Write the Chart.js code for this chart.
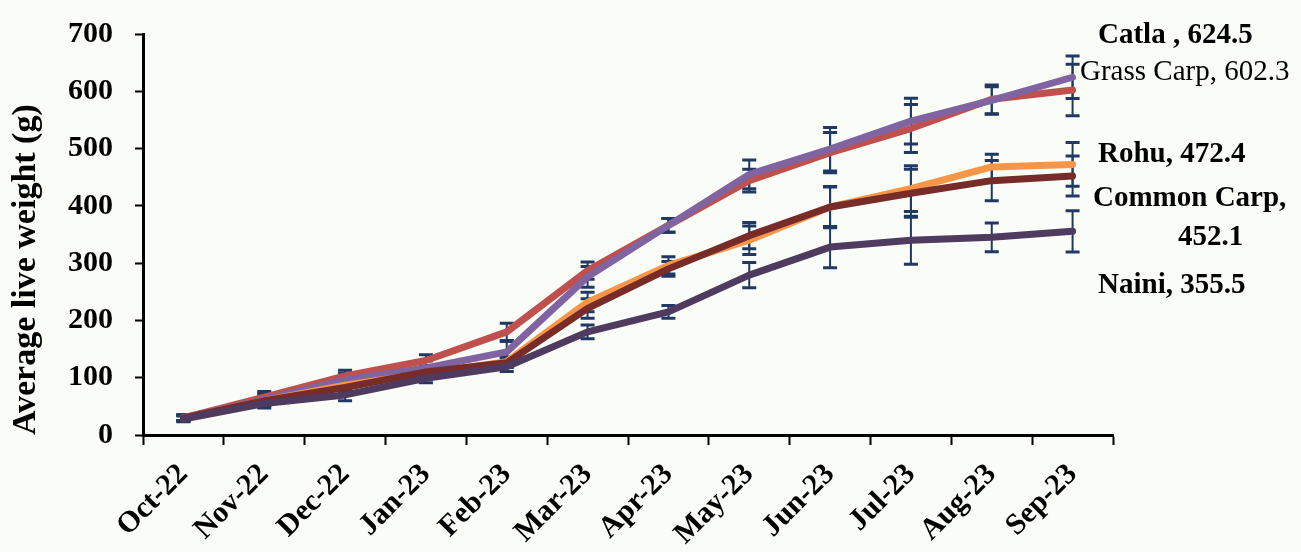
<!DOCTYPE html>
<html>
<head>
<meta charset="utf-8">
<script src="https://cdn.jsdelivr.net/npm/chart.js@4"></script>
<style>
  html, body { margin: 0; padding: 0; background: #fafcf7; }
  canvas { display: block; }
</style>
</head>
<body>
<canvas id="c" width="1301" height="552"></canvas>
<script>
// ---- data ----
const months = ['Oct-22','Nov-22','Dec-22','Jan-23','Feb-23','Mar-23','Apr-23','May-23','Jun-23','Jul-23','Aug-23','Sep-23'];
const yTicks = [0,100,200,300,400,500,600,700];

const catla      = [30, 62, 96, 117, 145, 276, 366, 455, 499, 548, 584, 624.5];
const grassCarp  = [30, 66, 103, 130, 180, 287, 366, 444, 493, 535, 586, 602.3];
const rohu       = [30, 60, 87, 108, 128, 232, 296, 340, 398, 430, 468, 472.4];
const commonCarp = [30, 60, 83, 110, 126, 221, 290, 348, 398, 422, 444, 452.1];
const naini      = [28, 55, 70, 99, 119, 180, 215, 279, 328, 340, 345, 355.5];

const catlaErr      = [5, 10, 12, 12, 18, 18, 12, 25, 38, 40, 24, 37];
const grassCarpErr  = [5, 10, 10, 10, 15, 15, 12, 20, 35, 42, 25, 45];
const rohuErr       = [5, 8, 10, 10, 8, 17, 15, 25, 35, 40, 22, 38];
const commonCarpErr = [5, 8, 10, 10, 8, 17, 13, 23, 36, 42, 35, 35];
const nainiErr      = [5, 8, 10, 8, 8, 12, 11, 22, 36, 42, 25, 36];

const endLabels = [
  {text: 'Catla , 624.5', bold: true},
  {text: 'Grass Carp, 602.3', bold: false},
  {text: 'Rohu, 472.4', bold: true},
  {text: 'Common Carp,', bold: true},
  {text: '452.1', bold: true},
  {text: 'Naini, 355.5', bold: true}
];

const FONT = "'Liberation Serif', 'Times New Roman', serif";

const bgPlugin = {
  id: 'bg',
  beforeDraw(chart) {
    const ctx = chart.ctx;
    ctx.save();
    ctx.fillStyle = '#fafcf7';
    ctx.fillRect(0, 0, chart.width, chart.height);
    ctx.restore();
  }
};

const errorBarPlugin = {
  id: 'errorBars',
  beforeDatasetsDraw(chart) {
    const ctx = chart.ctx;
    const xs = chart.scales.x, ys = chart.scales.y;
    ctx.save();
    ctx.strokeStyle = '#1f3864';
    chart.data.datasets.forEach(ds => {
      ds.data.forEach((v, i) => {
        const e = ds.errors[i];
        const x = xs.getPixelForValue(i);
        const y1 = ys.getPixelForValue(v - e);
        const y2 = ys.getPixelForValue(v + e);
        ctx.lineWidth = 2;
        ctx.beginPath();
        ctx.moveTo(x, y1); ctx.lineTo(x, y2);
        ctx.stroke();
        ctx.lineWidth = 3;
        ctx.beginPath();
        ctx.moveTo(x - 7, y1); ctx.lineTo(x + 7, y1);
        ctx.moveTo(x - 7, y2); ctx.lineTo(x + 7, y2);
        ctx.stroke();
      });
    });
    ctx.restore();
  }
};

const labelPos = [
  {dx: -15, y: 36},
  {dx: -33, y: 72},
  {dx: -15, y: 155},
  {dx: -20, y: 199},
  {dx: 65, y: 238},
  {dx: -15, y: 286}
];

const endLabelPlugin = {
  id: 'endLabels',
  afterDatasetsDraw(chart) {
    const ctx = chart.ctx;
    const right = chart.chartArea.right;
    ctx.save();
    ctx.fillStyle = '#000';
    ctx.textBaseline = 'middle';
    ctx.textAlign = 'left';
    endLabels.forEach((l, i) => {
      ctx.font = (l.bold ? 'bold ' : '') + '29px ' + FONT;
      ctx.fillText(l.text, right + labelPos[i].dx, labelPos[i].y);
    });
    ctx.restore();
  }
};

function mk(label, data, errors, color, order) {
  return {
    label, data, errors, order,
    borderColor: color, backgroundColor: color,
    borderWidth: 7, pointRadius: 0, pointHoverRadius: 0,
    borderCapStyle: 'round', borderJoinStyle: 'round',
    tension: 0, fill: false
  };
}

new Chart(document.getElementById('c'), {
  type: 'line',
  data: {
    labels: months,
    datasets: [
      mk('Catla', catla, catlaErr, '#8064a2', 3),
      mk('Grass Carp', grassCarp, grassCarpErr, '#c0504d', 4),
      mk('Rohu', rohu, rohuErr, '#f79646', 2),
      mk('Common Carp', commonCarp, commonCarpErr, '#772c2a', 1),
      mk('Naini', naini, nainiErr, '#4f3a60', 0)
    ]
  },
  options: {
    responsive: false,
    animation: false,
    devicePixelRatio: 1,
    layout: { padding: { top: 33, right: 188, bottom: 0, left: 0 } },
    plugins: { legend: { display: false }, tooltip: { enabled: false } },
    scales: {
      x: {
        type: 'category',
        offset: true,
        border: { display: true, color: '#000', width: 3 },
        grid: { display: true, drawOnChartArea: false, offset: true, tickLength: 10, tickWidth: 2, tickColor: '#000' },
        ticks: {
          color: '#000', font: { family: FONT, size: 30, weight: 'bold' },
          minRotation: 45, maxRotation: 45, padding: 12, autoSkip: false
        },
        afterFit(scale) { scale.height = 117; }
      },
      y: {
        min: 0, max: 700,
        afterBuildTicks(scale) { scale.ticks = yTicks.map(v => ({ value: v })); },
        border: { display: true, color: '#000', width: 3 },
        grid: { display: true, drawOnChartArea: false, tickLength: 8, tickWidth: 2, tickColor: '#000' },
        ticks: { color: '#000', padding: 22, font: { family: FONT, size: 30, weight: 'bold', lineHeight: 0.8 } },
        title: {
          display: true, text: 'Average live weight (g)', align: 'start',
          color: '#000', font: { family: FONT, size: 34, weight: 'bold' },
          padding: { top: 6, bottom: 0 }
        },
        afterFit(scale) { scale.width = 143; }
      }
    }
  },
  plugins: [bgPlugin, errorBarPlugin, endLabelPlugin]
});
</script>
</body>
</html>
